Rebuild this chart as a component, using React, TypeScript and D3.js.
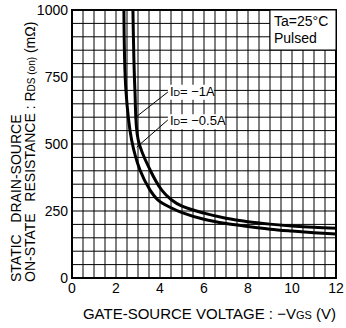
import React from 'react';
import * as d3 from 'd3';

// -VGS (V) vs RDS(on) (mOhm)
const vgsHigh = [2.77, 2.86, 3.01, 3.55, 4.08, 4.53, 5, 6, 7, 8, 9, 10, 11, 12];
const rdsHigh = [1000, 700, 515, 403, 328, 291, 268, 242, 223, 210, 201, 194, 189, 186];
const vgsLow = [2.36, 2.45, 2.71, 3.09, 3.55, 3.91, 4.5, 5, 6, 7, 8, 9, 10, 11, 12];
const rdsLow = [1000, 701, 515, 403, 328, 291, 262, 244, 219, 203, 192, 182, 175, 169, 164];

const xTicks = [0, 2, 4, 6, 8, 10, 12];
const yTicks = [0, 250, 500, 750, 1000];
const curveLabels = ['−1A', '−0.5A'];

const W = 346;
const H = 328;
const margin = { top: 10, right: 10, bottom: 50, left: 72 };
const FONT = '"Liberation Sans Narrow", "Liberation Sans", Arial, sans-serif';

function App() {
  const svgRef = React.useRef<SVGSVGElement>(null);

  React.useEffect(() => {
    const svg = d3.select(svgRef.current);
    svg.selectAll('*').remove();

    const x = d3.scaleLinear().domain([0, 12]).range([margin.left, W - margin.right]);
    const y = d3.scaleLinear().domain([0, 1000]).range([H - margin.bottom, margin.top]);

    // grid
    const grid = svg.append('g').attr('stroke', '#000').attr('stroke-width', 1);
    grid
      .selectAll('line.v')
      .data(d3.range(0.5, 12, 0.5))
      .enter()
      .append('line')
      .attr('x1', (d) => x(d))
      .attr('x2', (d) => x(d))
      .attr('y1', y(0))
      .attr('y2', y(1000));
    grid
      .selectAll('line.h')
      .data(d3.range(50, 1000, 50))
      .enter()
      .append('line')
      .attr('x1', x(0))
      .attr('x2', x(12))
      .attr('y1', (d) => y(d))
      .attr('y2', (d) => y(d));

    // frame
    svg
      .append('rect')
      .attr('x', x(0))
      .attr('y', y(1000))
      .attr('width', x(12) - x(0))
      .attr('height', y(0) - y(1000))
      .attr('fill', 'none')
      .attr('stroke', '#000')
      .attr('stroke-width', 2);

    // curves
    svg
      .append('clipPath')
      .attr('id', 'plotclip')
      .append('rect')
      .attr('x', x(0))
      .attr('y', y(1000))
      .attr('width', x(12) - x(0))
      .attr('height', y(0) - y(1000));

    const line = d3
      .line<[number, number]>()
      .x((d) => x(d[0]))
      .y((d) => y(d[1]))
      .curve(d3.curveCatmullRom.alpha(0.5));

    const series = [
      vgsHigh.map((v, i) => [v, rdsHigh[i]] as [number, number]),
      vgsLow.map((v, i) => [v, rdsLow[i]] as [number, number]),
    ];
    svg
      .append('g')
      .attr('clip-path', 'url(#plotclip)')
      .selectAll('path')
      .data(series)
      .enter()
      .append('path')
      .attr('d', (d) => line(d))
      .attr('fill', 'none')
      .attr('stroke', '#000')
      .attr('stroke-width', 3);

    // curve labels with leaders
    const leaders = [
      { from: [2.9, 600], to: [4.36, 694], lab: [4.45, 680] },
      { from: [2.94, 488], to: [4.36, 590], lab: [4.45, 570] },
    ];
    leaders.forEach((l, i) => {
      const g = svg.append('g');
      g.append('line')
        .attr('x1', x(l.from[0]))
        .attr('y1', y(l.from[1]))
        .attr('x2', x(l.to[0]))
        .attr('y2', y(l.to[1]))
        .attr('stroke', '#000')
        .attr('stroke-width', 1);
      const lx = x(l.lab[0]);
      const ly = y(l.lab[1]);
      const bw = i === 0 ? 46 : 57;
      g.append('rect')
        .attr('x', lx - 2)
        .attr('y', ly - 11)
        .attr('width', bw)
        .attr('height', 15)
        .attr('fill', '#fff');
      const t = g
        .append('text')
        .attr('x', lx)
        .attr('y', ly)
        .attr('font-family', FONT)
        .attr('font-size', 13);
      t.append('tspan').text('I');
      t.append('tspan').attr('font-size', 9).text('D');
      t.append('tspan').text('= ' + curveLabels[i]);
    });

    // Ta box
    svg
      .append('rect')
      .attr('x', x(12) - 66)
      .attr('y', y(1000))
      .attr('width', 66)
      .attr('height', 40)
      .attr('fill', '#fff')
      .attr('stroke', '#000')
      .attr('stroke-width', 1);
    svg
      .append('text')
      .attr('x', x(12) - 62)
      .attr('y', y(1000) + 16)
      .attr('font-family', FONT)
      .attr('font-size', 14)
      .text('Ta=25°C');
    svg
      .append('text')
      .attr('x', x(12) - 62)
      .attr('y', y(1000) + 33)
      .attr('font-family', FONT)
      .attr('font-size', 14)
      .text('Pulsed');

    // tick labels
    svg
      .selectAll('text.xt')
      .data(xTicks)
      .enter()
      .append('text')
      .attr('x', (d) => x(d))
      .attr('y', y(0) + 15)
      .attr('text-anchor', 'middle')
      .attr('font-family', FONT)
      .attr('font-size', 14)
      .text((d) => d);
    svg
      .selectAll('text.yt')
      .data(yTicks)
      .enter()
      .append('text')
      .attr('x', x(0) - 4)
      .attr('y', (d) => y(d) + 5)
      .attr('text-anchor', 'end')
      .attr('font-family', FONT)
      .attr('font-size', 14)
      .text((d) => d);

    // x title
    const xt = svg
      .append('text')
      .attr('x', x(12))
      .attr('y', H - 9)
      .attr('text-anchor', 'end')
      .attr('font-family', FONT)
      .attr('font-size', 15);
    xt.append('tspan').text('GATE-SOURCE VOLTAGE : −V');
    xt.append('tspan').attr('font-size', 11).text('GS');
    xt.append('tspan').text(' (V)');

    // y title
    const y1 = svg
      .append('text')
      .attr('transform', `translate(21, ${y(0) + 4}) rotate(-90)`)
      .attr('font-family', FONT)
      .attr('font-size', 14)
      .style('white-space', 'pre');
    y1.text('STATIC   DRAIN-SOURCE');
    const y2 = svg
      .append('text')
      .attr('transform', `translate(35, ${y(0) + 4}) rotate(-90)`)
      .attr('font-family', FONT)
      .attr('font-size', 14)
      .style('white-space', 'pre');
    y2.append('tspan').text('ON-STATE   RESISTANCE : R');
    y2.append('tspan').attr('font-size', 10).text('DS (on)');
    y2.append('tspan').text(' (mΩ)');
  }, []);

  return (
    <svg
      ref={svgRef}
      width={W}
      height={H}
      style={{ position: 'absolute', left: 0, top: 0, background: '#fff' }}
    />
  );
}

export default App;
